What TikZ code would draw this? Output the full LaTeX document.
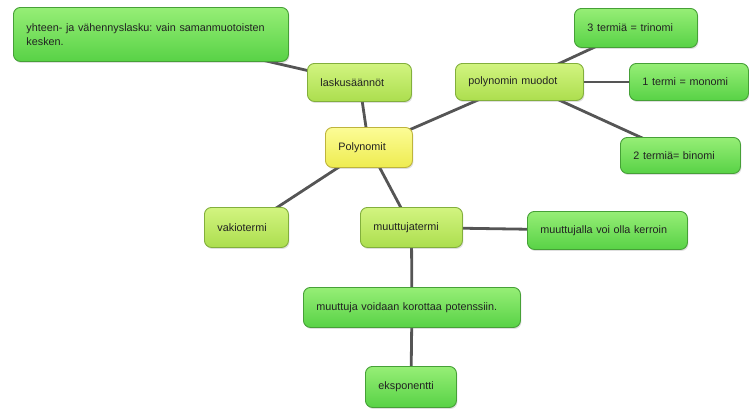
\documentclass[tikz,border=0pt]{standalone}
\usepackage{fontspec}
\setmainfont{Liberation Sans}
\frenchspacing
\usetikzlibrary{shadows,backgrounds}
\definecolor{edgec}{RGB}{85,85,85}
\definecolor{gtop}{RGB}{150,238,118}
\definecolor{gbot}{RGB}{88,210,70}
\definecolor{gdraw}{RGB}{70,160,55}
\definecolor{ltop}{RGB}{210,244,128}
\definecolor{lbot}{RGB}{172,222,78}
\definecolor{ldraw}{RGB}{130,175,60}
\definecolor{ytop}{RGB}{252,252,150}
\definecolor{ybot}{RGB}{238,236,80}
\definecolor{ydraw}{RGB}{190,180,60}
\definecolor{txt}{RGB}{34,34,34}
\tikzset{
  box/.style={anchor=north west, rounded corners=7pt, line width=0.9pt,
    inner xsep=13pt, inner ysep=0pt, align=left, text=txt,
    font=\fontsize{10.8}{14.5}\selectfont,
    drop shadow={shadow xshift=1pt, shadow yshift=-1.5pt, opacity=0.25}},
  gbox/.style={box, draw=gdraw, top color=gtop, bottom color=gbot},
  lbox/.style={box, draw=ldraw, top color=ltop, bottom color=lbot},
  ybox/.style={box, draw=ydraw, top color=ytop, bottom color=ybot},
  link/.style={draw=edgec, line width=2.8pt},
}
\begin{document}
\begin{tikzpicture}[x=1pt,y=-1pt]
\useasboundingbox (0,0) rectangle (749,408);
\node[gbox, text width=249pt, minimum height=54pt] (yh) at (13,7) {yhteen- ja vähennyslasku: vain samanmuotoisten\\kesken.};
\node[lbox, text width=78pt, minimum height=38pt] (lask) at (307,63) {laskusäännöt};
\node[ybox, text width=61pt, minimum height=40pt] (poly) at (325,127) {Polynomit};
\node[lbox, text width=102pt, minimum height=37pt] (muod) at (455,63) {polynomin muodot};
\node[gbox, text width=97pt, minimum height=39pt] (tri) at (574,8) {3 termiä = trinomi};
\node[gbox, text width=93pt, minimum height=37pt] (mono) at (629,63) {1 termi = monomi};
\node[gbox, text width=94pt, minimum height=36pt] (bi) at (620,137) {2 termiä= binomi};
\node[lbox, text width=58pt, minimum height=40pt] (vak) at (204,207) {vakiotermi};
\node[lbox, text width=76pt, minimum height=40pt] (mt) at (360,207) {muuttujatermi};
\node[gbox, text width=134pt, minimum height=38pt] (ker) at (527,211) {muuttujalla voi olla kerroin};
\node[gbox, text width=191pt, minimum height=40pt] (pot) at (303,287) {muuttuja voidaan korottaa potenssiin.};
\node[gbox, text width=65pt, minimum height=41pt] (eks) at (365,366) {eksponentti};
\begin{scope}[on background layer]
\path[link] (yh.center) -- (lask.center);
\path[link] (lask.center) -- (poly.center);
\path[link] (poly.center) -- (muod.center);
\path[link] (muod.center) -- (tri.center);
\path[link] (muod.center) -- (mono.center);
\path[link] (muod.center) -- (bi.center);
\path[link] (poly.center) -- (vak.center);
\path[link] (poly.center) -- (mt.center);
\path[link] (mt.center) -- (ker.center);
\path[link] (mt.center) -- (pot.center);
\path[link] (pot.center) -- (eks.center);
\end{scope}
\end{tikzpicture}
\end{document}
